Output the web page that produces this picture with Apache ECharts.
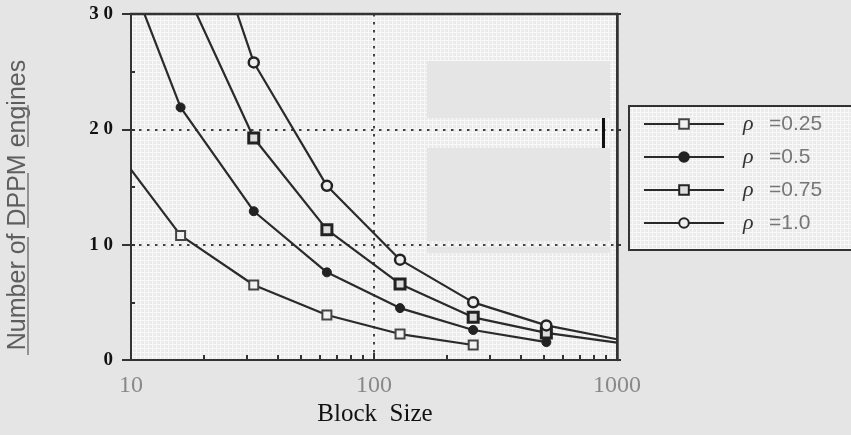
<!DOCTYPE html>
<html><head><meta charset="utf-8">
<script src="https://cdn.jsdelivr.net/npm/echarts@6/dist/echarts.min.js"></script>
<style>html,body{margin:0;padding:0;background:#e5e5e5;}#c{width:851px;height:435px;}</style>
</head><body><div id="c"></div>
<script>
// ---- data ----
const blockSizes = [10, 16, 32, 64, 128, 256, 512, 1000];
const seriesNames = ['ρ=0.25', 'ρ=0.5', 'ρ=0.75', 'ρ=1.0'];
const rho025 = [16.5, 10.8, 6.5, 3.9, 2.25, 1.3, null, null];
const rho05  = [33, 21.9, 12.9, 7.6, 4.5, 2.6, 1.55, null];
const rho075 = [null, 33, 19.25, 11.3, 6.6, 3.7, 2.35, 1.5];
const rho10  = [null, 44.5, 25.8, 15.1, 8.7, 5.0, 3.0, 1.8];
const yTicks = [0, 10, 20, 30];
const xTickLabels = [10, 100, 1000];
const xMinorTicks = [20, 30, 40, 50, 60, 70, 80, 90, 200, 300, 400, 500, 600, 700, 800, 900];
const xTitle = 'Block  Size';
const yTitle = 'Number of DPPM engines';

const chart = echarts.init(document.getElementById('c'));

const pc = document.createElement('canvas'); pc.width = 4; pc.height = 4;
const g = pc.getContext('2d');
g.fillStyle = '#ebebeb'; g.fillRect(0, 0, 4, 4);
g.fillStyle = '#f8f8f8'; g.fillRect(0, 0, 4, 1); g.fillRect(0, 0, 1, 4);
const texture = { image: pc, repeat: 'repeat' };

function build(vals) {
  const out = [];
  vals.forEach((v, i) => {
    if (v === null) return;
    const x = blockSizes[i];
    const item = { value: [x, v] };
    if (x === blockSizes[0] || x === blockSizes[blockSizes.length - 1] || v > yTicks[yTicks.length - 1]) item.symbol = 'none';
    out.push(item);
  });
  return out;
}

const lineStyle = { color: '#2a2a2a', width: 2.2 };
const styles = [
  { symbol: 'rect', symbolSize: 9, itemStyle: { color: '#f2f2f2', borderColor: '#444', borderWidth: 2 } },
  { symbol: 'circle', symbolSize: 9, itemStyle: { color: '#222', borderColor: '#222', borderWidth: 1 } },
  { symbol: 'rect', symbolSize: 10, itemStyle: { color: '#ddd', borderColor: '#222', borderWidth: 3 } },
  { symbol: 'circle', symbolSize: 10, itemStyle: { color: '#eee', borderColor: '#222', borderWidth: 2.5 } }
];
const allVals = [rho025, rho05, rho075, rho10];

const series = allVals.map((vals, i) => Object.assign({
  name: seriesNames[i], type: 'line', xAxisIndex: 0, yAxisIndex: 0,
  data: build(vals), lineStyle: lineStyle, showSymbol: true, clip: true, animation: false
}, styles[i]));

const dotted = { color: '#444', width: 2, type: [2.5, 5.5] };

chart.setOption({
  backgroundColor: '#e5e5e5',
  animation: false,
  grid: { left: 131, top: 14, width: 486, height: 346, show: true, backgroundColor: texture, borderColor: '#333', borderWidth: 2 },
  xAxis: [
    { type: 'log', logBase: 10, min: 10, max: 1000,
      axisLine: { show: true, onZero: false, lineStyle: { color: '#333', width: 2 } },
      axisTick: { show: true, inside: true, length: 7, lineStyle: { color: '#333', width: 2 } },
      axisLabel: { color: '#888', fontSize: 24, fontFamily: 'Liberation Serif', margin: 14,
        customValues: xTickLabels, formatter: v => String(v) },
      splitLine: { show: true, lineStyle: dotted }
    },
    { type: 'log', logBase: 10, min: 10, max: 1000, position: 'bottom',
      axisLine: { show: false }, axisLabel: { show: false }, splitLine: { show: false },
      axisTick: { show: true, inside: true, length: 5, customValues: xMinorTicks, lineStyle: { color: '#333', width: 2 } }
    }
  ],
  yAxis: [
    { type: 'value', min: 0, max: 30, interval: 10,
      axisLine: { show: true, onZero: false, lineStyle: { color: '#333', width: 2 } },
      axisTick: { show: true, length: 9, lineStyle: { color: '#333', width: 2 } },
      axisLabel: { color: '#111', fontSize: 19, fontWeight: 'bold', fontFamily: 'Liberation Serif', margin: 18,
        formatter: v => String(v).split('').join(' ') },
      splitLine: { show: true, lineStyle: dotted }
    },
    { type: 'value', min: 0, max: 30, interval: 5, position: 'left',
      axisLine: { show: false }, axisLabel: { show: false }, splitLine: { show: false },
      axisTick: { show: true, inside: true, length: 4, lineStyle: { color: '#333', width: 2 } }
    },
    { type: 'value', min: 0, max: 30, interval: 10, position: 'right',
      axisLine: { show: true, lineStyle: { color: '#333', width: 2.5 } }, axisLabel: { show: false }, splitLine: { show: false },
      axisTick: { show: true, length: 4, lineStyle: { color: '#333', width: 2 } }
    }
  ],
  legend: {
    data: seriesNames, orient: 'vertical', left: 638, top: 108,
    itemWidth: 80, itemHeight: 12, itemGap: 11,
    formatter: name => '{r|ρ}{v|' + name.slice(1) + '}',
    textStyle: {
      rich: {
        r: { fontFamily: 'Liberation Serif', fontStyle: 'italic', fontSize: 22, color: '#333', width: 26, padding: [0, 0, 0, 14], lineHeight: 24 },
        v: { fontFamily: 'Liberation Sans', fontSize: 21, color: '#777', lineHeight: 24 }
      }
    }
  },
  graphic: [
    { type: 'rect', z: 1, shape: { x: 629, y: 106, width: 260, height: 144 }, style: { fill: texture, stroke: '#333', lineWidth: 2 } },
    { type: 'rect', z: 10, shape: { x: 427, y: 61, width: 183, height: 57 }, style: { fill: '#e5e5e5' } },
    { type: 'rect', z: 10, shape: { x: 427, y: 148, width: 183, height: 93 }, style: { fill: '#e5e5e5' } },
    { type: 'rect', z: 10, shape: { x: 427, y: 247, width: 183, height: 6 }, style: { fill: '#e5e5e5' } },
    { type: 'rect', z: 11, shape: { x: 602, y: 118, width: 3, height: 30 }, style: { fill: '#111' } },
    { type: 'line', z: 12, shape: { x1: 130, y1: 14, x2: 618, y2: 14 }, style: { stroke: '#333', lineWidth: 2.5 } },
    { type: 'text', z: 10, x: 375, y: 414, style: { text: xTitle, font: '25px "Liberation Serif"', fill: '#111', textAlign: 'center', textVerticalAlign: 'middle' } },
    { type: 'text', z: 10, x: 18, y: 205, rotation: Math.PI / 2, style: { text: yTitle, font: '25px "Liberation Sans"', fill: '#5e5e5e', textAlign: 'center', textVerticalAlign: 'middle' } },
    { type: 'line', z: 10, shape: { x1: 28, y1: 237, x2: 28, y2: 355 }, style: { stroke: '#777', lineWidth: 1.5 } },
    { type: 'line', z: 10, shape: { x1: 28, y1: 173, x2: 28, y2: 228 }, style: { stroke: '#777', lineWidth: 1.5 } },
    { type: 'line', z: 10, shape: { x1: 28, y1: 105, x2: 28, y2: 147 }, style: { stroke: '#777', lineWidth: 1.5 } }
  ],
  series: series
});
</script></body></html>
